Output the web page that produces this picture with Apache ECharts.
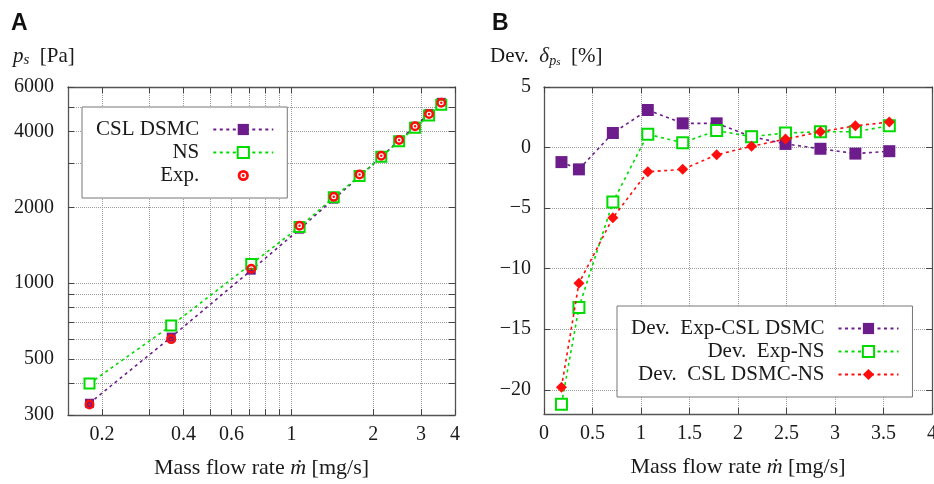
<!DOCTYPE html>
<html>
<head>
<meta charset="utf-8">
<script src="https://cdn.jsdelivr.net/npm/echarts@6/dist/echarts.min.js"></script>
<style>
  html, body { margin: 0; padding: 0; background: #fff; }
  #chart { width: 934px; height: 484px; }
</style>
</head>
<body>
<div id="chart"></div>
<script>
// Mass flow rate [mg/s] shared by both panels
const massFlow = [0.18, 0.36, 0.71, 1.07, 1.43, 1.78, 2.14, 2.49, 2.85, 3.21, 3.56];

// Panel A: stagnation pressure p_s [Pa]
const pressureCSL = [334, 611, 1126, 1638, 2155, 2647, 3172, 3688, 4193, 4713, 5216];
const pressureNS  = [400, 679, 1191, 1671, 2192, 2662, 3172, 3656, 4134, 4627, 5106];
const pressureExp = [330, 600, 1140, 1690, 2200, 2700, 3200, 3700, 4190, 4690, 5200];

// Panel B: relative deviations [%]
const devExpCSL = [-1.2, -1.8, 1.2, 3.1, 2.0, 2.0, 0.9, 0.3, -0.1, -0.5, -0.3];
const devExpNS  = [-21.2, -13.2, -4.5, 1.1, 0.4, 1.4, 0.9, 1.2, 1.3, 1.3, 1.8];
const devCSLNS  = [-19.8, -11.2, -5.8, -2.0, -1.8, -0.6, 0.1, 0.7, 1.3, 1.8, 2.1];

// Tick positions
const flowLogLabels = [0.2, 0.4, 0.6, 1, 2, 3, 4];
const flowLogTicks  = [0.2, 0.3, 0.4, 0.5, 0.6, 0.7, 0.8, 0.9, 1, 2, 3, 4];
const pressureLabels = [300, 500, 1000, 2000, 4000, 6000];
const pressureTicks  = [300, 400, 500, 600, 700, 800, 900, 1000, 2000, 3000, 4000, 5000, 6000];
const devTicks = [-20, -15, -10, -5, 0, 5];

const SERIF = "'Liberation Serif', 'DejaVu Serif', serif";
const SANS = "'Liberation Sans', Arial, sans-serif";
const PURPLE = '#6c1d8b';
const GREEN = '#00dc00';
const RED = '#ff0d0d';
const INK = '#1a1a1a';

// red disc with a thin white ring: the experimental marker
const ringDot = 'path://M10,0A10,10 0 1,1 10,20A10,10 0 1,1 10,0Z' +
  'M10,5A5,5 0 1,0 10,15A5,5 0 1,0 10,5Z' +
  'M10,7.5A2.5,2.5 0 1,1 10,12.5A2.5,2.5 0 1,1 10,7.5Z';

const pairs = (xs, ys) => xs.map((x, i) => [x, ys[i]]);
const minus = v => (v < 0 ? '\u2212' + Math.abs(v) : String(v));

const frame = { show: true, onZero: false, lineStyle: { color: '#555', width: 1.3 } };
const dotted = { show: true, lineStyle: { color: '#9c9c9c', type: 'dotted', width: 1 } };
const ticks = vals => ({ show: true, inside: true, length: 6, customValues: vals,
  lineStyle: { color: '#444', width: 1 } });
const tickText = { fontFamily: SERIF, fontSize: 20, color: INK };

const flowName = {
  name: '{t|Mass flow rate }{i|\u1E41}{t| [mg/s]}',
  nameLocation: 'middle',
  nameGap: 42,
  nameTextStyle: {
    color: INK,
    rich: {
      t: { fontFamily: SERIF, fontSize: 22, color: INK },
      i: { fontFamily: SERIF, fontSize: 22, fontStyle: 'italic', color: INK }
    }
  }
};

const logFlowAxis = (gridIndex, position, main) => Object.assign({
  type: 'log', logBase: 10, gridIndex, position, min: 0.15, max: 4,
  axisLine: frame,
  axisTick: ticks(flowLogTicks),
  splitLine: main ? dotted : { show: false },
  axisLabel: main
    ? Object.assign({ show: true, margin: 10, customValues: flowLogLabels, formatter: v => String(v) }, tickText)
    : { show: false }
}, main ? flowName : {});

const logPressureAxis = (gridIndex, position, main) => ({
  type: 'log', logBase: 10, gridIndex, position, min: 300, max: 6000,
  axisLine: frame,
  axisTick: ticks(pressureTicks),
  splitLine: main ? dotted : { show: false },
  axisLabel: main
    ? Object.assign({ show: true, margin: 14, customValues: pressureLabels, formatter: v => String(v) }, tickText)
    : { show: false }
});

const linFlowAxis = (gridIndex, position, main) => Object.assign({
  type: 'value', gridIndex, position, min: 0, max: 4, interval: 0.5,
  axisLine: frame,
  axisTick: { show: true, inside: true, length: 6, lineStyle: { color: '#444', width: 1 } },
  splitLine: main ? dotted : { show: false },
  axisLabel: main
    ? Object.assign({ show: true, margin: 10, formatter: v => String(v) }, tickText)
    : { show: false }
}, main ? flowName : {});

const devAxis = (gridIndex, position, main) => ({
  type: 'value', gridIndex, position, min: -22, max: 5,
  axisLine: frame,
  axisTick: ticks(devTicks),
  splitLine: main ? dotted : { show: false },
  axisLabel: main
    ? Object.assign({ show: true, margin: 13, customValues: devTicks, formatter: minus }, tickText)
    : { show: false }
});

const dashed = color => ({ color, width: 1.6, type: [3, 3.5] });

const legendBase = {
  orient: 'vertical',
  align: 'right',
  itemWidth: 60,
  itemHeight: 14,
  itemGap: 2,
  backgroundColor: '#fff',
  borderColor: '#777',
  borderWidth: 1,
  borderRadius: 0,
  textStyle: { fontFamily: SERIF, fontSize: 21, color: INK, padding: [0, 9, 0, 0] },
  inactiveColor: '#ccc'
};

const plain = (size, extra) => Object.assign({ fontFamily: SERIF, fontSize: size, fontWeight: 'normal', color: INK }, extra || {});

const option = {
  animation: false,
  backgroundColor: '#fff',
  title: [
    { text: 'A', left: 11, top: 12, padding: 0,
      textStyle: { fontFamily: SANS, fontWeight: 'bold', fontSize: 23, color: '#111' } },
    { text: 'B', left: 492, top: 12, padding: 0,
      textStyle: { fontFamily: SANS, fontWeight: 'bold', fontSize: 23, color: '#111' } },
    { text: '{i|p}{s|s}{t|  [Pa]}', left: 13, top: 44, padding: 0,
      textStyle: { fontWeight: 'normal', rich: {
        i: plain(21, { fontStyle: 'italic', lineHeight: 24, verticalAlign: 'middle' }),
        s: plain(15, { fontStyle: 'italic', lineHeight: 13, verticalAlign: 'bottom' }),
        t: plain(21, { lineHeight: 24, verticalAlign: 'middle' })
      } } },
    { text: '{t|Dev.  }{i|\u03B4}{s|p}{ss|s}{t|  [%]}', left: 490, top: 44, padding: 0,
      textStyle: { fontWeight: 'normal', rich: {
        t: plain(21, { lineHeight: 24, verticalAlign: 'middle' }),
        i: plain(21, { fontStyle: 'italic', lineHeight: 24, verticalAlign: 'middle' }),
        s: plain(14, { fontStyle: 'italic', lineHeight: 16, verticalAlign: 'bottom' }),
        ss: plain(11, { fontStyle: 'italic', lineHeight: 8, verticalAlign: 'bottom' })
      } } }
  ],
  grid: [
    { left: 68, top: 87, width: 387, height: 328, outerBoundsMode: 'none' },
    { left: 544, top: 87, width: 388, height: 327, outerBoundsMode: 'none' }
  ],
  xAxis: [
    logFlowAxis(0, 'bottom', true),
    logFlowAxis(0, 'top', false),
    linFlowAxis(1, 'bottom', true),
    linFlowAxis(1, 'top', false)
  ],
  yAxis: [
    logPressureAxis(0, 'left', true),
    logPressureAxis(0, 'right', false),
    devAxis(1, 'left', true),
    devAxis(1, 'right', false)
  ],
  legend: [
    Object.assign({}, legendBase, {
      left: 82, top: 107, padding: [12, 13, 12, 14],
      data: ['CSL DSMC', 'NS', 'Exp.']
    }),
    Object.assign({}, legendBase, {
      left: 617, top: 306, padding: [12, 13, 12, 14],
      formatter: name => name.replace('Dev. ', 'Dev.  '),
      data: ['Dev. Exp-CSL DSMC', 'Dev. Exp-NS', 'Dev. CSL DSMC-NS']
    })
  ],
  series: [
    { name: 'CSL DSMC', type: 'line', xAxisIndex: 0, yAxisIndex: 0,
      data: pairs(massFlow, pressureCSL),
      symbol: 'rect', symbolSize: 9,
      itemStyle: { color: PURPLE }, lineStyle: dashed(PURPLE), z: 2 },
    { name: 'NS', type: 'line', xAxisIndex: 0, yAxisIndex: 0,
      data: pairs(massFlow, pressureNS),
      symbol: 'emptyRect', symbolSize: 10,
      itemStyle: { color: GREEN, borderColor: GREEN, borderWidth: 1.8 }, lineStyle: dashed(GREEN), z: 3 },
    { name: 'Exp.', type: 'line', xAxisIndex: 0, yAxisIndex: 0,
      data: pairs(massFlow, pressureExp),
      symbol: ringDot, symbolSize: 10,
      itemStyle: { color: RED }, lineStyle: { color: RED, opacity: 0, width: 1 }, z: 4 },

    { name: 'Dev. Exp-CSL DSMC', type: 'line', xAxisIndex: 2, yAxisIndex: 2,
      data: pairs(massFlow, devExpCSL),
      symbol: 'rect', symbolSize: 12,
      itemStyle: { color: PURPLE }, lineStyle: dashed(PURPLE), z: 2 },
    { name: 'Dev. Exp-NS', type: 'line', xAxisIndex: 2, yAxisIndex: 2,
      data: pairs(massFlow, devExpNS),
      symbol: 'emptyRect', symbolSize: 11,
      itemStyle: { color: GREEN, borderColor: GREEN, borderWidth: 2 }, lineStyle: dashed(GREEN), z: 3 },
    { name: 'Dev. CSL DSMC-NS', type: 'line', xAxisIndex: 2, yAxisIndex: 2,
      data: pairs(massFlow, devCSLNS),
      symbol: 'diamond', symbolSize: 11,
      itemStyle: { color: RED }, lineStyle: dashed(RED), z: 4 }
  ]
};

const chart = echarts.init(document.getElementById('chart'), null, { renderer: 'canvas' });
chart.setOption(option);
</script>
</body>
</html>
